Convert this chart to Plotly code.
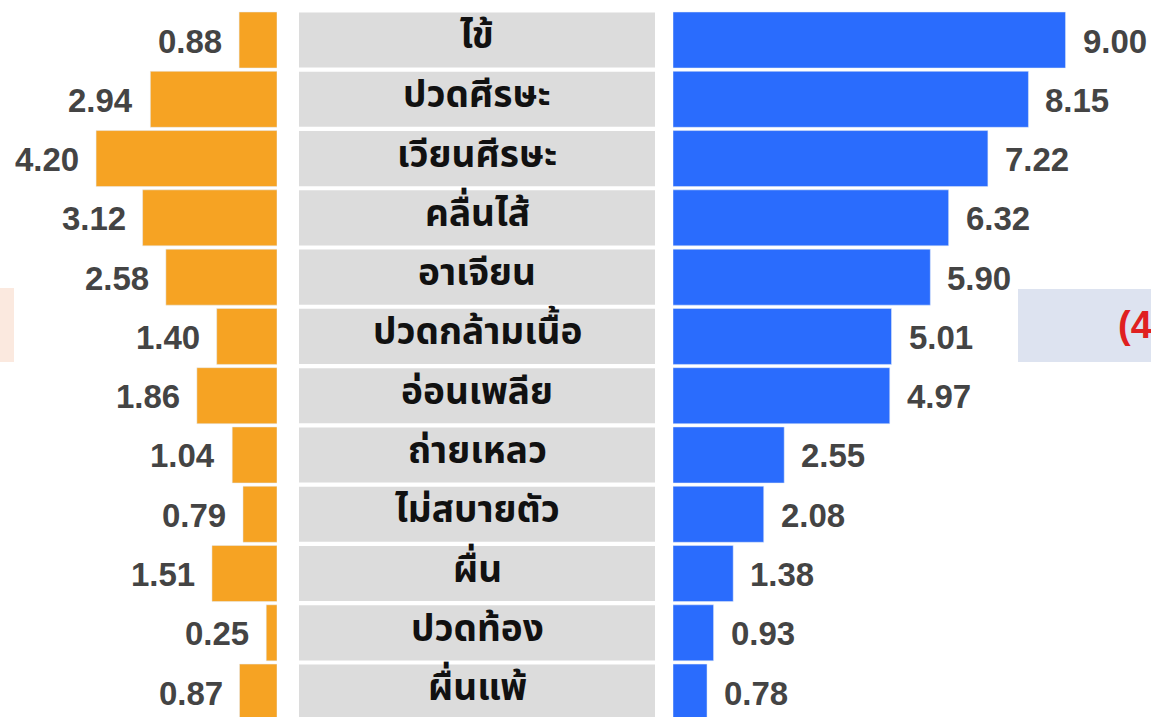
import plotly.graph_objects as go

categories = ["ไข้", "ปวดศีรษะ", "เวียนศีรษะ", "คลื่นไส้", "อาเจียน", "ปวดกล้ามเนื้อ",
              "อ่อนเพลีย", "ถ่ายเหลว", "ไม่สบายตัว", "ผื่น", "ปวดท้อง", "ผื่นแพ้"]
left_values = [0.88, 2.94, 4.20, 3.12, 2.58, 1.40, 1.86, 1.04, 0.79, 1.51, 0.25, 0.87]
right_values = [9.00, 8.15, 7.22, 6.32, 5.90, 5.01, 4.97, 2.55, 2.08, 1.38, 0.93, 0.78]

W, H = 1151, 717
ORANGE = "#F6A323"
BLUE = "#2A6CFD"
GRAY = "#DCDCDC"
NUMFONT = dict(family="Liberation Sans, Arial, sans-serif", size=33, color="#444444")
THAIFONT = dict(family="Noto Sans Thai, Noto Sans Thai UI, Loma, Tlwg Typo, sans-serif", size=37, color="#111111")

ys = list(range(len(categories)))

fig = go.Figure()
fig.add_trace(go.Bar(x=left_values, y=ys, orientation="h", marker_color=ORANGE,
                     width=0.945, xaxis="x", yaxis="y", hoverinfo="skip"))
fig.add_trace(go.Bar(x=right_values, y=ys, orientation="h", marker_color=BLUE,
                     width=0.945, xaxis="x2", yaxis="y", hoverinfo="skip"))

annotations = []
shapes = []
for i, cat in enumerate(categories):
    annotations.append(dict(x=left_values[i], y=i, xref="x", yref="y", text=f"<b>{left_values[i]:.2f}</b>",
                            xanchor="right", xshift=-15, showarrow=False, font=NUMFONT, yshift=-1))
    annotations.append(dict(x=right_values[i], y=i, xref="x2", yref="y", text=f"<b>{right_values[i]:.2f}</b>",
                            xanchor="left", xshift=15, showarrow=False, font=NUMFONT, yshift=-1))
    annotations.append(dict(x=(299 + 655) / 2 / W, y=i, xref="paper", yref="y", text=f"<b>{cat}</b>",
                            xanchor="center", showarrow=False, font=THAIFONT, yshift=3))
    shapes.append(dict(type="rect", xref="paper", yref="y", x0=299 / W, x1=655 / W,
                       y0=i - 0.465, y1=i + 0.465, fillcolor=GRAY, line_width=0, layer="below"))

# partial decorative boxes at the edges
shapes.append(dict(type="rect", xref="paper", yref="paper", x0=0, x1=14 / W,
                   y0=1 - 362 / H, y1=1 - 288 / H, fillcolor="#FBE9DF", line_width=0, layer="below"))
shapes.append(dict(type="rect", xref="paper", yref="paper", x0=1018 / W, x1=1.0,
                   y0=1 - 362 / H, y1=1 - 289 / H, fillcolor="#DDE3F0", line_width=0, layer="below"))
annotations.append(dict(x=1116 / W, y=1 - 325 / H, xref="paper", yref="paper", text="<b>(4</b>",
                        xanchor="left", showarrow=False,
                        font=dict(family="Liberation Sans, Arial, sans-serif", size=38, color="#E02020")))

fig.update_layout(
    width=W, height=H,
    margin=dict(l=0, r=0, t=0, b=0),
    paper_bgcolor="white", plot_bgcolor="rgba(0,0,0,0)",
    showlegend=False, barmode="overlay",
    xaxis=dict(domain=[0, 277 / W], range=[6.43, 0], visible=False, fixedrange=True),
    xaxis2=dict(domain=[673 / W, 1], range=[0, 10.96], visible=False, fixedrange=True, anchor="y"),
    yaxis=dict(range=[11.42, -0.675], visible=False, fixedrange=True),
    annotations=annotations, shapes=shapes,
)

fig.write_html("out.html", config={"displayModeBar": False},
               post_script="document.body.style.margin='0';document.body.style.overflow='hidden';")
